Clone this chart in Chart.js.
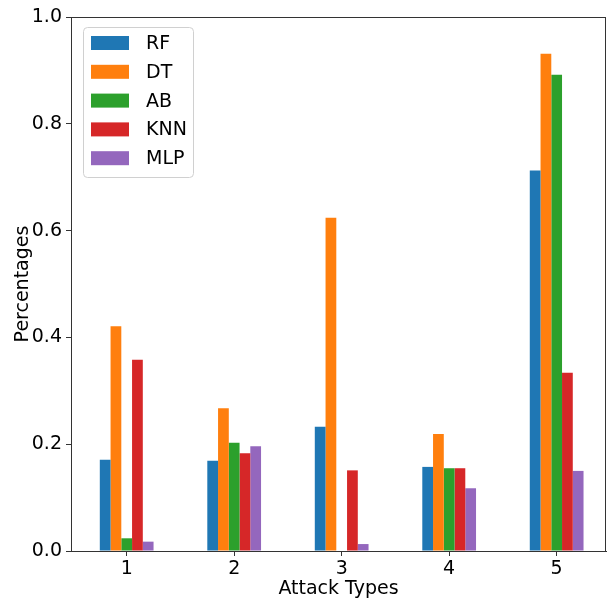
<!DOCTYPE html>
<html><head><meta charset="utf-8">
<script src="https://cdn.jsdelivr.net/npm/chart.js@4/dist/chart.umd.min.js"></script>
<style>html,body{margin:0;padding:0;background:#fff}canvas{display:block}</style>
</head><body>
<canvas id="c" width="608" height="599"></canvas>
<script>
const categories = ['1','2','3','4','5'];
const seriesNames = ['RF','DT','AB','KNN','MLP'];
const RF  = [0.171, 0.169, 0.2325, 0.1575, 0.7125];
const DT  = [0.421, 0.2675, 0.624, 0.219, 0.931];
const AB  = [0.0238, 0.2025, 0, 0.155, 0.892];
const KNN = [0.358, 0.183, 0.151, 0.155, 0.334];
const MLP = [0.0175, 0.196, 0.013, 0.1175, 0.150];
const yTicks = [0, 0.2, 0.4, 0.6, 0.8, 1.0];
const colors = ['#1f77b4','#ff7f0e','#2ca02c','#d62728','#9467bd'];
const values = [RF, DT, AB, KNN, MLP];
const FONT = 'DejaVu Sans';

const framePlugin = {
  id: 'frame',
  afterDatasetsDraw(chart) {
    const {ctx, chartArea: a} = chart;
    ctx.save();
    ctx.strokeStyle = '#333';
    ctx.lineWidth = 1;
    ctx.strokeRect(Math.round(a.left) + 0.5, Math.round(a.top) + 0.5, Math.round(a.right - a.left) - 1, Math.round(a.bottom - a.top));
    const x = 83, y = 27, w = 110, h = 150;
    ctx.beginPath();
    ctx.roundRect(x + 0.5, y + 0.5, w, h, 4);
    ctx.fillStyle = 'rgba(255,255,255,0.8)';
    ctx.fill();
    ctx.strokeStyle = '#d0d0d0';
    ctx.stroke();
    ctx.font = '19px "' + FONT + '"';
    ctx.textBaseline = 'middle';
    chart.data.datasets.forEach((ds, i) => {
      const cy = 43 + i * 28.8;
      ctx.fillStyle = ds.backgroundColor;
      ctx.fillRect(91, cy - 7, 38, 14);
      ctx.fillStyle = '#000';
      ctx.fillText(ds.label, 146, cy + 1);
    });
    ctx.restore();
  }
};

new Chart(document.getElementById('c'), {
  type: 'bar',
  data: {
    datasets: seriesNames.map((n, i) => ({
      label: n,
      data: values[i].map((v, j) => ({x: j + 1, y: v})),
      backgroundColor: colors[i], borderWidth: 0,
      categoryPercentage: 0.5, barPercentage: 1.0
    }))
  },
  options: {
    responsive: false, animation: false,
    layout: {padding: {top: 17, right: 2, left: 0, bottom: 0}},
    plugins: {legend: {display: false}, tooltip: {enabled: false}},
    scales: {
      x: {
        type: 'linear', min: 0.482, max: 5.459, offset: false,
        afterBuildTicks(s) { s.ticks = categories.map((c, j) => ({value: j + 1})); },
        grid: {display: true, offset: false, drawOnChartArea: false, drawTicks: true, tickLength: 5, color: '#333'},
        border: {display: true, color: '#333'},
        ticks: {color: '#000', font: {family: FONT, size: 19}, padding: 2, maxRotation: 0,
                callback: v => categories[Math.round(v) - 1]},
        title: {display: true, text: 'Attack Types', color: '#000', font: {family: FONT, size: 19, lineHeight: 1.0}, padding: {top: 0, bottom: 0}},
        afterFit(s) { s.height = 48; }
      },
      y: {
        min: 0, max: 1,
        afterBuildTicks(s) { s.ticks = yTicks.map(v => ({value: v})); },
        grid: {display: true, drawOnChartArea: false, drawTicks: true, tickLength: 5, color: '#333'},
        border: {display: true, color: '#333'},
        ticks: {color: '#000', font: {family: FONT, size: 19}, padding: 4, callback: v => Number(v).toFixed(1)},
        title: {display: true, text: 'Percentages', color: '#000', font: {family: FONT, size: 19}, padding: {top: 12, bottom: 0}},
        afterFit(s) { s.width = 71; }
      }
    }
  },
  plugins: [framePlugin]
});
</script>
</body></html>
